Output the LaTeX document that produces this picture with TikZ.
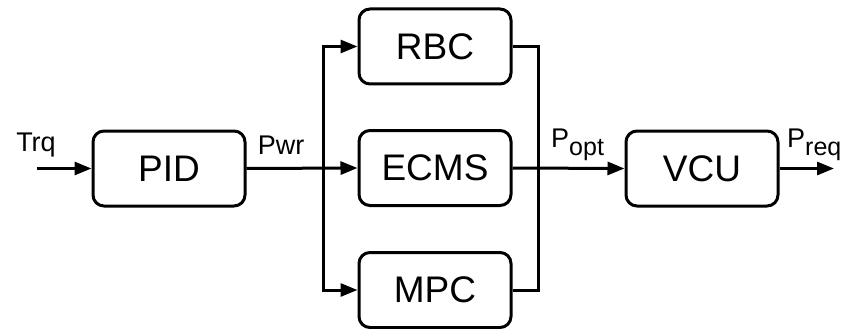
\documentclass[tikz,border=0pt]{standalone}
\usepackage{fontspec}
\setmainfont{Liberation Sans}
\usetikzlibrary{arrows.meta}
\begin{document}
\begin{tikzpicture}[x=1pt,y=-1pt,
  blk/.style={draw,line width=3pt,rounded corners=11pt,minimum width=152pt,minimum height=75pt,inner sep=0pt,font=\fontsize{37}{37}\selectfont},
  conn/.style={line width=3pt},
  arr/.style={conn,-{Triangle[length=17pt,width=13pt]}},
  lbl/.style={inner sep=0pt,font=\fontsize{27}{27}\selectfont}]
\useasboundingbox (0,0) rectangle (844,329);
\node[blk] (pid) at (169,168.5) {PID};
\node[blk] (rbc) at (435,46.5) {RBC};
\node[blk] (ecms) at (435,168) {ECMS};
\node[blk] (mpc) at (435,290) {MPC};
\node[blk] (vcu) at (702,168.5) {VCU};
\coordinate (in) at (37,168.5);
\coordinate (out) at (834,168.5);
\coordinate (split) at (323,168.5);
\coordinate (merge) at (538,168.5);
\draw[arr] (in) -- (pid.west);
\draw[arr] (pid.east) -- (ecms.west);
\draw[arr] (split) |- (rbc.west);
\draw[arr] (split) |- (mpc.west);
\draw[conn] (rbc.east) -| (merge) |- (mpc.east);
\draw[arr] (ecms.east) -- (vcu.west);
\draw[arr] (vcu.east) -- (out);
\node[lbl] (trq) at (36,145) {Trq};
\node[lbl] (pwr) at (281,145) {Pwr};
\node[lbl,anchor=base west] (popt) at (551,147) {P\raisebox{-8pt}{\fontsize{25}{25}\selectfont opt}};
\node[lbl,anchor=base west] (preq) at (787,147) {P\raisebox{-8pt}{\fontsize{25}{25}\selectfont req}};
\end{tikzpicture}
\end{document}
